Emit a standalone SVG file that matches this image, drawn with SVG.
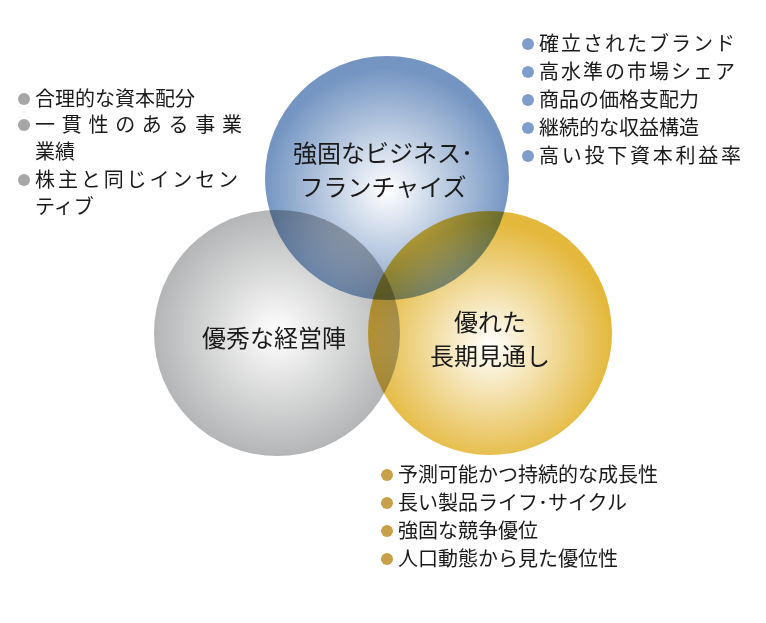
<svg xmlns="http://www.w3.org/2000/svg" width="766" height="623" viewBox="0 0 766 623">
<defs>
<radialGradient id="gb" cx="0.5" cy="0.55" r="0.5"><stop offset="0" stop-color="#ffffff"/><stop offset="1" stop-color="#7495c2"/></radialGradient>
<radialGradient id="gg" cx="0.5" cy="0.5" r="0.5"><stop offset="0" stop-color="#ffffff"/><stop offset="1" stop-color="#b4b5b6"/></radialGradient>
<radialGradient id="gy" cx="0.5" cy="0.55" r="0.5"><stop offset="0" stop-color="#ffffff"/><stop offset="1" stop-color="#e4b83c"/></radialGradient>
<style>
.c{mix-blend-mode:multiply}
text{font-family:"Noto Sans CJK JP",sans-serif;fill:#1a1a1a}
.l{font-size:24px;text-anchor:middle}
.s{font-size:20px}
</style>
</defs>
<rect width="766" height="623" fill="#fff"/>
<g id="gray"><circle class="c" cx="277" cy="333" r="123" fill="url(#gg)"/><text class="l" x="274" y="347">優秀な経営陣</text></g>
<g id="gold"><circle class="c" cx="490" cy="333" r="122" fill="url(#gy)"/><text class="l" x="490" y="331">優れた</text><text class="l" x="490" y="365">長期見通し</text></g>
<g id="blue"><circle class="c" cx="387" cy="178" r="122" fill="url(#gb)"/><text class="l" x="383" y="162">強固なビジネス･</text><text class="l" x="383" y="196">フランチャイズ</text></g>
<g id="list-mgmt">
<g fill="#a6a6a6"><circle cx="24" cy="99" r="6"/><circle cx="24" cy="125" r="6"/><circle cx="24" cy="180" r="6"/></g>
<text class="s" x="35" y="106">合理的な資本配分</text>
<text class="s" x="35" y="132" textLength="207">一貫性のある事業</text>
<text class="s" x="35" y="159">業績</text>
<text class="s" x="35" y="187" textLength="203">株主と同じインセン</text>
<text class="s" x="35" y="214">ティブ</text>
</g>
<g id="list-biz">
<g fill="#7f9dcb"><circle cx="528" cy="44" r="6"/><circle cx="528" cy="72" r="6"/><circle cx="528" cy="100" r="6"/><circle cx="528" cy="128" r="6"/><circle cx="528" cy="156" r="6"/></g>
<text class="s" x="539" y="51" textLength="196">確立されたブランド</text>
<text class="s" x="539" y="79" textLength="196">高水準の市場シェア</text>
<text class="s" x="539" y="107">商品の価格支配力</text>
<text class="s" x="539" y="135">継続的な収益構造</text>
<text class="s" x="539" y="163" textLength="202">高い投下資本利益率</text>
</g>
<g id="list-outlook">
<g fill="#c9a04a"><circle cx="387" cy="475" r="6"/><circle cx="387" cy="503" r="6"/><circle cx="387" cy="531" r="6"/><circle cx="387" cy="559" r="6"/></g>
<text class="s" x="398" y="482">予測可能かつ持続的な成長性</text>
<text class="s" x="398" y="510">長い製品ライフ･サイクル</text>
<text class="s" x="398" y="538">強固な競争優位</text>
<text class="s" x="398" y="566">人口動態から見た優位性</text>
</g>
</svg>
